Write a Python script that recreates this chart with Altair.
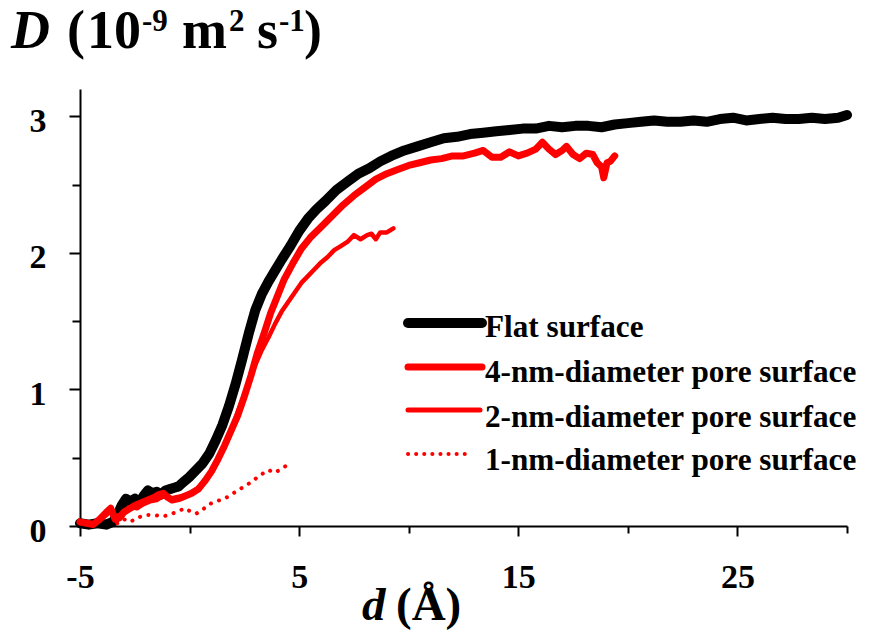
import altair as alt
import pandas as pd

# ---------------- data ----------------
flat_x = [-5.0, -4.6, -4.2, -3.8, -3.5, -3.3, -3.1, -2.9, -2.7, -2.5, -2.3, -2.1, -1.9, -1.7, -1.5,
          -1.3, -1.1, -0.9, -0.7, -0.5, -0.3, 0.0, 0.3, 0.6, 0.9, 1.2, 1.5, 1.8, 2.1, 2.4, 2.7, 3.0,
          3.3, 3.6, 3.9, 4.2, 4.6, 5.0, 5.4, 5.8, 6.2, 6.7, 7.2, 7.7, 8.2, 8.7, 9.2, 9.8, 10.4, 11.0,
          11.6, 12.2, 12.8, 13.4, 14.0, 14.6, 15.2, 15.8, 16.4, 17.0, 17.6, 18.2, 18.8, 19.4, 20.0,
          20.6, 21.2, 21.8, 22.4, 23.0, 23.6, 24.2, 24.8, 25.4, 26.0, 26.6, 27.2, 27.8, 28.4, 29.0,
          29.6, 30.0]
flat_y = [0.02, 0.01, 0.02, 0.01, 0.03, 0.08, 0.15, 0.20, 0.18, 0.20, 0.17, 0.22, 0.26, 0.24, 0.25,
          0.23, 0.26, 0.27, 0.28, 0.29, 0.32, 0.36, 0.41, 0.46, 0.53, 0.63, 0.74, 0.88, 1.04, 1.22,
          1.41, 1.58, 1.70, 1.79, 1.87, 1.95, 2.05, 2.16, 2.25, 2.32, 2.38, 2.46, 2.52, 2.58, 2.62,
          2.67, 2.71, 2.75, 2.78, 2.81, 2.84, 2.85, 2.87, 2.88, 2.89, 2.90, 2.91, 2.91, 2.93, 2.92,
          2.93, 2.93, 2.92, 2.94, 2.95, 2.96, 2.97, 2.96, 2.96, 2.97, 2.96, 2.98, 2.99, 2.97, 2.98,
          2.99, 2.98, 2.98, 2.99, 2.98, 2.99, 3.01]

pore4_x = [-5.0, -4.7, -4.4, -4.1, -3.8, -3.6, -3.4, -3.2, -3.0, -2.8, -2.5, -2.2, -1.9, -1.6, -1.4,
           -1.2, -1.0, -0.8, -0.5, -0.2, 0.1, 0.4, 0.7, 1.0, 1.3, 1.6, 1.9, 2.2, 2.5, 2.8, 3.1, 3.4,
           3.7, 4.0, 4.3, 4.7, 5.1, 5.5, 6.0, 6.5, 7.0, 7.5, 8.0, 8.5, 9.0, 9.5, 10.0, 10.5, 11.0,
           11.5, 12.0, 12.5, 13.0, 13.4, 13.8, 14.2, 14.6, 15.0, 15.4, 15.8, 16.1, 16.4, 16.7, 17.0,
           17.2, 17.5, 17.8, 18.1, 18.4, 18.6, 18.8, 18.9, 19.05, 19.2, 19.4]
pore4_y = [0.03, 0.02, 0.01, 0.05, 0.10, 0.13, 0.05, 0.06, 0.10, 0.12, 0.15, 0.17, 0.19, 0.21, 0.23,
           0.24, 0.21, 0.19, 0.20, 0.22, 0.24, 0.27, 0.33, 0.40, 0.49, 0.59, 0.70, 0.81, 0.95, 1.10,
           1.27, 1.41, 1.56, 1.68, 1.80, 1.92, 2.03, 2.11, 2.19, 2.27, 2.35, 2.42, 2.48, 2.54, 2.58,
           2.61, 2.64, 2.66, 2.68, 2.69, 2.71, 2.71, 2.73, 2.75, 2.70, 2.70, 2.74, 2.71, 2.73, 2.76,
           2.81, 2.76, 2.72, 2.75, 2.78, 2.72, 2.69, 2.73, 2.72, 2.66, 2.63, 2.55, 2.66, 2.67, 2.71]

pore2_x = [-5.0, -4.7, -4.4, -4.1, -3.8, -3.6, -3.4, -3.2, -3.0, -2.7, -2.4, -2.1, -1.8, -1.5, -1.2,
           -0.9, -0.6, -0.3, 0.0, 0.3, 0.6, 0.9, 1.2, 1.5, 1.8, 2.1, 2.4, 2.7, 3.0, 3.3, 3.6, 3.9,
           4.2, 4.5, 4.8, 5.1, 5.4, 5.7, 6.0, 6.3, 6.6, 6.9, 7.2, 7.5, 7.8, 8.1, 8.3, 8.5, 8.7, 9.0,
           9.3]
pore2_y = [0.02, 0.03, 0.02, 0.04, 0.08, 0.11, 0.07, 0.08, 0.11, 0.14, 0.13, 0.16, 0.18, 0.19, 0.22,
           0.20, 0.21, 0.22, 0.24, 0.27, 0.31, 0.38, 0.46, 0.56, 0.67, 0.79, 0.92, 1.05, 1.18, 1.29,
           1.38, 1.48, 1.57, 1.64, 1.71, 1.78, 1.83, 1.88, 1.93, 1.97, 2.02, 2.05, 2.08, 2.13, 2.10,
           2.13, 2.14, 2.10, 2.15, 2.15, 2.18]

pore1_x = [-3.3, -3.0, -2.7, -2.4, -2.0, -1.6, -1.2, -0.8, -0.5, -0.2, 0.1, 0.3, 0.6, 0.9, 1.2, 1.6,
           2.0, 2.4, 2.8, 3.2, 3.6, 3.9, 4.2, 4.4]
pore1_y = [0.02, 0.05, 0.03, 0.06, 0.08, 0.08, 0.07, 0.09, 0.11, 0.13, 0.10, 0.09, 0.12, 0.16, 0.18,
           0.20, 0.24, 0.28, 0.32, 0.37, 0.41, 0.39, 0.42, 0.44]

legend_labels = ["Flat surface", "4-nm-diameter pore surface",
                 "2-nm-diameter pore surface", "1-nm-diameter pore surface"]

x_major = [-5, 5, 15, 25]
x_minor = [0, 10, 20, 30]
y_major = [0, 1, 2, 3]
y_minor = [0.5, 1.5, 2.5]

# ---------------- styling ----------------
W, H = 767, 437
FONT = "Liberation Serif"
RED = "#ff0000"

xscale = alt.Scale(domain=[-5, 30], nice=False, zero=False)
yscale = alt.Scale(domain=[0, 3.2], nice=False, zero=False)

common = dict(domainColor="black", domainWidth=2, tickColor="black", tickWidth=2,
              labelFont=FONT, labelFontWeight="bold", labelFontSize=34, labelColor="black",
              grid=False, title=None, labelOverlap=False)

x_axis_major = alt.Axis(orient="bottom", values=x_major, tickSize=10, labelPadding=24,
                        labelFlush=False, labelExpr="datum.value + ''", **common)
x_axis_minor = alt.Axis(orient="bottom", values=x_minor, tickSize=7, labels=False,
                        domain=False, **common)
y_axis_major = alt.Axis(orient="left", values=y_major, tickSize=11, labelPadding=23,
                        labelOffset=5, labelExpr="datum.value + ''", **common)
y_axis_minor = alt.Axis(orient="left", values=y_minor, tickSize=8, labels=False,
                        domain=False, **common)


def series(xs, ys):
    return pd.DataFrame({"d": xs, "D": ys})


line_style = dict(strokeCap="round", strokeJoin="round", interpolate="linear")

flat = alt.Chart(series(flat_x, flat_y)).mark_line(color="black", strokeWidth=10, **line_style).encode(
    x=alt.X("d:Q", scale=xscale, axis=x_axis_major),
    y=alt.Y("D:Q", scale=yscale, axis=y_axis_major),
)
p4 = alt.Chart(series(pore4_x, pore4_y)).mark_line(color=RED, strokeWidth=7, **line_style).encode(
    x=alt.X("d:Q", scale=xscale, axis=x_axis_minor),
    y=alt.Y("D:Q", scale=yscale, axis=y_axis_minor),
)
p2 = alt.Chart(series(pore2_x, pore2_y)).mark_line(color=RED, strokeWidth=4.5, **line_style).encode(
    x=alt.X("d:Q", scale=xscale, axis=None),
    y=alt.Y("D:Q", scale=yscale, axis=None),
)
p1 = alt.Chart(series(pore1_x, pore1_y)).mark_line(color=RED, strokeWidth=4, strokeCap="round",
                                                   strokeDash=[0.1, 8.5]).encode(
    x=alt.X("d:Q", scale=xscale, axis=None),
    y=alt.Y("D:Q", scale=yscale, axis=None),
)

# ---------------- legend (drawn inside the plot) ----------------
leg_styles = [
    dict(color="black", strokeWidth=10, strokeCap="round"),
    dict(color=RED, strokeWidth=7, strokeCap="round"),
    dict(color=RED, strokeWidth=5, strokeCap="round"),
    dict(color=RED, strokeWidth=4, strokeCap="round", strokeDash=[0.1, 8]),
]
leg_line_y = [234, 278, 321, 365]
leg_text_y = [248, 293, 338, 381]
leg_x2 = [402, 402, 400, 392]

legend_layers = []
for i, lab in enumerate(legend_labels):
    one = pd.DataFrame({"label": [lab]})
    legend_layers.append(
        alt.Chart(one).mark_rule(**leg_styles[i]).encode(
            x=alt.value(328), x2=alt.value(leg_x2[i]), y=alt.value(leg_line_y[i]))
    )
    legend_layers.append(
        alt.Chart(one).mark_text(font=FONT, fontWeight="bold", fontSize=31.2, align="left",
                                 baseline="alphabetic", color="black").encode(
            x=alt.value(405), y=alt.value(leg_text_y[i]), text="label:N")
    )

# ---------------- axis titles made of text pieces ----------------
# (text, x, y, size, italic)
title_pieces = [
    ("D", -69, -41, 54, True),
    ("(", -13, -41, 54, False),
    ("10", 7, -41, 54, False),
    ("-9", 62, -58, 31, False),
    ("m", 102, -41, 54, False),
    ("2", 149, -58, 31, False),
    ("s", 177, -41, 54, False),
    ("-1", 199, -58, 31, False),
    (")", 224, -41, 54, False),
    ("d", 282, 531, 47, True),
    ("(Å)", 316, 531, 47, False),
]
title_layers = []
for txt, tx, ty, fs, it in title_pieces:
    one = pd.DataFrame({"t": [txt]})
    title_layers.append(
        alt.Chart(one).mark_text(font=FONT, fontWeight="bold", fontSize=fs,
                                 fontStyle="italic" if it else "normal", align="left",
                                 baseline="alphabetic", color="black").encode(
            x=alt.value(tx), y=alt.value(ty), text="t:N")
    )

chart = alt.layer(flat, p4, p2, p1, *legend_layers, *title_layers).resolve_axis(
    x="independent", y="independent"
).properties(
    width=W, height=H,
    autosize=alt.AutoSizeParams(type="none"),
    padding={"left": 72, "top": 81, "right": 17, "bottom": 106},
    background="white",
).configure_view(stroke=None)

chart.save("out.html", embed_options={"renderer": "svg", "actions": False})
